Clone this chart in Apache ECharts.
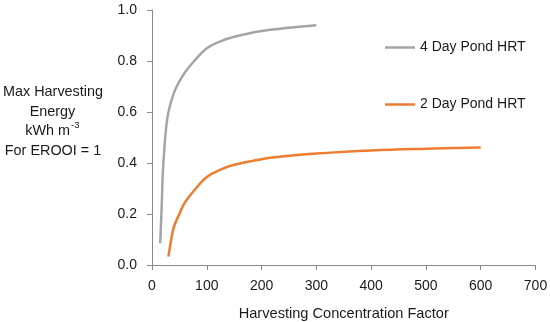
<!DOCTYPE html>
<html>
<head>
<meta charset="utf-8">
<script src="https://cdn.jsdelivr.net/npm/echarts@6/dist/echarts.min.js"></script>
<style>html,body{margin:0;padding:0;background:#fff}#c{width:550px;height:322px}</style>
</head>
<body>
<div id="c"></div>
<script>
const seriesNames = ['4 Day Pond HRT', '2 Day Pond HRT'];
const hcf4 = [15, 18, 20, 25, 30, 40, 50, 60, 75, 100, 125, 150, 200, 250, 300];
const val4 = [0.085, 0.25, 0.37, 0.52, 0.60, 0.675, 0.72, 0.755, 0.795, 0.85, 0.877, 0.895, 0.918, 0.93, 0.94];
const hcf2 = [30, 35, 40, 50, 60, 80, 100, 125, 150, 200, 250, 300, 400, 500, 600];
const val2 = [0.033, 0.10, 0.15, 0.20, 0.245, 0.30, 0.345, 0.374, 0.393, 0.415, 0.428, 0.437, 0.449, 0.456, 0.461];
const xTicks = [0, 100, 200, 300, 400, 500, 600, 700];
const yTicks = [0.0, 0.2, 0.4, 0.6, 0.8, 1.0];
const xTitle = 'Harvesting Concentration Factor';

const font = 'Liberation Sans';
const txt = '#1a1a1a';
const axisCol = '#888888';

const chart = echarts.init(document.getElementById('c'), null, {renderer: 'canvas'});
chart.setOption({
  animation: false,
  backgroundColor: '#ffffff',
  grid: {left: 152, right: 14.5, top: 10, bottom: 57, containLabel: false, outerBoundsMode: 'none'},
  legend: {
    orient: 'vertical', left: 380, top: 35.5, itemGap: 43,
    icon: 'rect', itemWidth: 30, itemHeight: 2.5,
    textStyle: {fontFamily: font, fontSize: 14, color: txt},
    data: seriesNames
  },
  graphic: [
    {type: 'text', x: 53, y: 92, style: {text: 'Max Harvesting', align: 'center', verticalAlign: 'middle', font: '14.4px "Liberation Sans"', fill: txt}},
    {type: 'text', x: 52.5, y: 111.7, style: {text: 'Energy', align: 'center', verticalAlign: 'middle', font: '14.4px "Liberation Sans"', fill: txt}},
    {type: 'text', x: 70, y: 131, style: {text: 'kWh m', align: 'right', verticalAlign: 'middle', font: '14.4px "Liberation Sans"', fill: txt}},
    {type: 'text', x: 71, y: 125, style: {text: '-3', align: 'left', verticalAlign: 'middle', font: '9.5px "Liberation Sans"', fill: txt}},
    {type: 'text', x: 53, y: 151.5, style: {text: 'For EROOI = 1', align: 'center', verticalAlign: 'middle', font: '14.4px "Liberation Sans"', fill: txt}}
  ],
  xAxis: {
    type: 'value', min: xTicks[0], max: xTicks[xTicks.length - 1], interval: 100,
    name: xTitle, nameLocation: 'middle', nameGap: 41,
    nameTextStyle: {fontFamily: font, fontSize: 14.6, color: txt},
    axisLine: {show: true, lineStyle: {color: axisCol, width: 1}},
    axisTick: {show: true, length: 5, lineStyle: {color: axisCol}},
    axisLabel: {fontFamily: font, fontSize: 14, color: txt, margin: 14},
    splitLine: {show: false}
  },
  yAxis: {
    type: 'value', min: yTicks[0], max: yTicks[yTicks.length - 1], interval: 0.2,
    axisLine: {show: true, lineStyle: {color: axisCol, width: 1}},
    axisTick: {show: true, length: 5, lineStyle: {color: axisCol}},
    axisLabel: {fontFamily: font, fontSize: 14, color: txt, margin: 15, formatter: v => v.toFixed(1)},
    splitLine: {show: false}
  },
  series: [
    {name: seriesNames[0], type: 'line', smooth: 0.4, showSymbol: false, symbol: 'none',
     lineStyle: {color: '#A5A5A5', width: 2.5}, itemStyle: {color: '#A5A5A5'},
     data: hcf4.map((x, i) => [x, val4[i]])},
    {name: seriesNames[1], type: 'line', smooth: 0.4, showSymbol: false, symbol: 'none',
     lineStyle: {color: '#ED7D31', width: 2.5}, itemStyle: {color: '#ED7D31'},
     data: hcf2.map((x, i) => [x, val2[i]])}
  ]
});
</script>
</body>
</html>
